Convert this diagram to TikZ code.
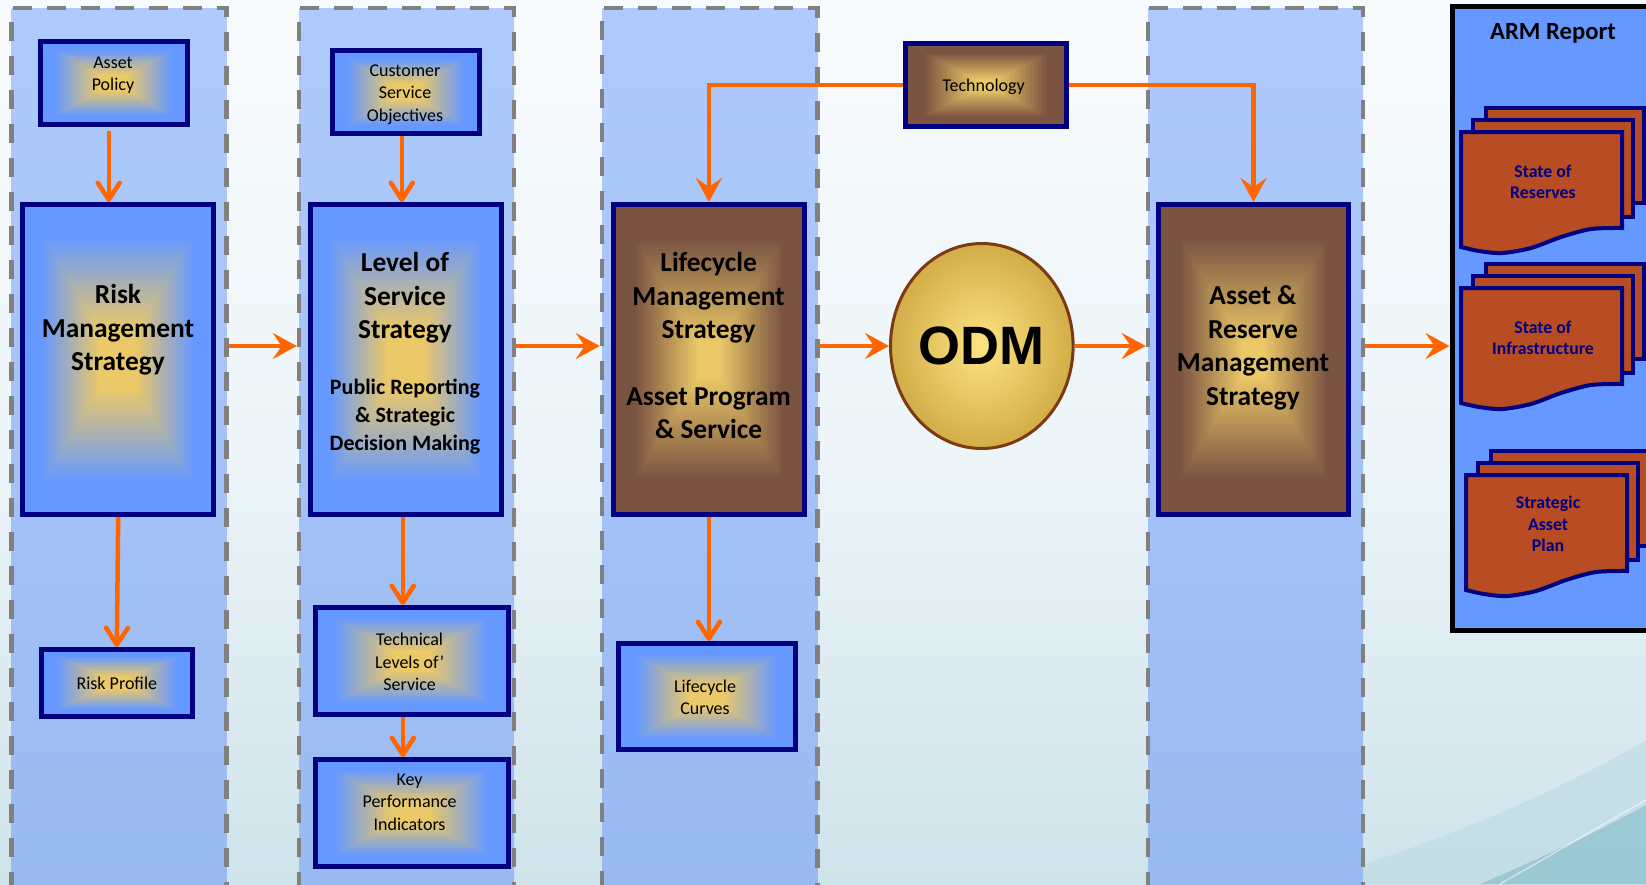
\documentclass[tikz,border=0pt]{standalone}
\usepackage{fontspec}
\setmainfont{Carlito}
\newfontfamily\odmfont{Liberation Sans}
\usetikzlibrary{arrows.meta,calc,shapes.geometric}

\definecolor{bgtop}{HTML}{F8FBFD}
\definecolor{bgmid}{HTML}{EDF5F8}
\definecolor{bgbot}{HTML}{CFE3EA}
\definecolor{swooshA}{HTML}{BCDBE3}
\definecolor{swooshB}{HTML}{8CC0CC}
\definecolor{lanetop}{HTML}{AFCBFD}
\definecolor{lanebot}{HTML}{99BAF1}
\definecolor{dashgray}{HTML}{808080}
\definecolor{navy}{HTML}{000080}
\definecolor{boxblue}{HTML}{6699FF}
\definecolor{boxgold}{HTML}{EBC868}
\definecolor{boxbrown}{HTML}{7A5441}
\definecolor{flow}{HTML}{FF6600}
\definecolor{docfill}{HTML}{B84C22}
\definecolor{odmedge}{HTML}{7B3A12}
\definecolor{odmin}{HTML}{FDE483}
\definecolor{odmout}{HTML}{D2AD48}

\tikzset{
  % rectangular "from centre" gradient made of nested rectangles:
  % #1 edge colour, #2 centre colour, #3/#4 start and end of the blend
  rectgrad/.style n args={4}{path picture={
    \foreach \gk in {0,...,59}{
      \pgfmathsetmacro\gt{\gk/60}
      \pgfmathtruncatemacro\gp{min(100,max(0,(\gt-#3)/(#4-#3)*100))}
      \fill[#2!\gp!#1]
        ($(path picture bounding box.south west)!\gt!(path picture bounding box.center)$)
        rectangle
        ($(path picture bounding box.north east)!\gt!(path picture bounding box.center)$);
    }}},
  lanebox/.style={draw=dashgray, line width=4.5pt, dash pattern=on 19pt off 15pt,
    top color=lanetop, bottom color=lanebot, inner sep=0pt},
  bluebox/.style={draw=navy, line width=5pt, fill=boxblue,
    rectgrad={boxblue}{boxgold}{0.2}{0.8}, inner sep=0pt},
  brownbox/.style={draw=navy, line width=5pt, fill=boxbrown,
    rectgrad={boxbrown}{boxgold}{0.22}{0.88}, inner sep=0pt},
  bigtxt/.style={font=\bfseries\fontsize{27.4}{33.5}\selectfont, align=center, inner sep=0pt},
  midtxt/.style={font=\bfseries\fontsize{22}{28}\selectfont, align=center, inner sep=0pt},
  smalltxt/.style={font=\fontsize{18}{22.3}\selectfont, align=center, inner sep=0pt},
  doctxt/.style={font=\bfseries\fontsize{17.8}{21.5}\selectfont, text=navy, align=center, inner sep=0pt},
  docpage/.style={draw=navy, line width=4pt, fill=docfill},
  flowH/.style={draw=flow, line width=4.5pt, -{Stealth[length=24pt, width=26pt, inset=9pt]}},
  flowV/.style={draw=flow, line width=4.5pt, -{Straight Barb[length=17pt, width=22pt, round]}},
  docstack/.pic={
    \filldraw[docpage] (25,-24) rectangle (183,71);
    \filldraw[docpage] (12,-12) rectangle (172,85);
    \filldraw[docpage] (0,0) -- (161,0) --
      plot[smooth] coordinates {(161,96) (130,97) (100,105) (70,116) (41,121) (18,119) (0,115)}
      -- cycle;
  },
}

\begin{document}
\begin{tikzpicture}[x=1pt,y=-1pt]
\useasboundingbox (0,0) rectangle (1646,884);

% backdrop
\shade[top color=bgtop, bottom color=bgbot, middle color=bgmid] (0,0) rectangle (1646,884);
\fill[swooshA, opacity=0.6] (1300,884) .. controls (1450,840) and (1560,790) .. (1646,740) -- (1646,884) -- cycle;
\fill[swooshB, opacity=0.7] (1480,884) .. controls (1560,850) and (1610,825) .. (1646,805) -- (1646,884) -- cycle;
\draw[white, opacity=0.5, line width=1.5pt] (1500,884) .. controls (1560,850) and (1610,820) .. (1646,800);

% swim lanes
\node[lanebox, minimum width=215pt, minimum height=882pt] (lane1) at (119,449) {};
\node[lanebox, minimum width=215pt, minimum height=882pt] (lane2) at (406.5,449) {};
\node[lanebox, minimum width=215.5pt, minimum height=882pt] (lane3) at (709.75,449) {};
\node[lanebox, minimum width=215pt, minimum height=882pt] (lane4) at (1255.5,449) {};

% report panel
\node[draw=black, line width=5pt, fill=boxblue, minimum width=250pt, minimum height=623.5pt, inner sep=0pt] (arm) at (1577,318.25) {};
\node[font=\bfseries\fontsize{24.7}{28}\selectfont, inner sep=0pt] (armt) at (1553,33) {ARM Report};

% lane 1
\node[bluebox, minimum width=147.5pt, minimum height=82.4pt] (policy) at (113.75,83) {};
\node[smalltxt] (policyt) at (113,75) {Asset\\Policy};
\node[bluebox, minimum width=191.4pt, minimum height=310pt] (risk) at (118.2,359.5) {};
\node[bigtxt] (riskt) at (118,330) {Risk\\Management\\Strategy};
\node[bluebox, minimum width=151.4pt, minimum height=67pt] (rp) at (116.8,683) {};
\node[smalltxt] (rpt) at (116.8,683) {Risk Profile};

% lane 2
\node[bluebox, minimum width=147.4pt, minimum height=83pt] (cso) at (405.8,92) {};
\node[smalltxt] (csot) at (405,94.5) {Customer\\Service\\Objectives};
\node[bluebox, minimum width=190.6pt, minimum height=310pt] (los) at (405.8,359.5) {};
\node[bigtxt] (lost) at (405,298) {Level of\\Service\\Strategy};
\node[midtxt] (losb) at (405,417) {Public Reporting\\\& Strategic\\Decision Making};
\node[bluebox, minimum width=193.2pt, minimum height=107pt] (tlos) at (411.6,661) {};
\node[smalltxt] (tlost) at (409.6,662) {Technical\\Levels of’\\Service};
\node[bluebox, minimum width=193.2pt, minimum height=107pt] (kpi) at (411.6,813) {};
\node[smalltxt] (kpit) at (409.6,802) {Key\\Performance\\Indicators};

% lane 3
\node[brownbox, minimum width=190.8pt, minimum height=310pt] (life) at (708.9,359.5) {};
\node[bigtxt] (lifet) at (708.6,298) {Lifecycle\\Management\\Strategy};
\node[bigtxt] (lifeb) at (708.6,413) {Asset Program\\\& Service};
\node[bluebox, minimum width=177.2pt, minimum height=106pt] (curves) at (706.8,696.5) {};
\node[smalltxt] (curvest) at (705,697) {Lifecycle\\Curves};

% technology and ODM
\node[brownbox, minimum width=160.6pt, minimum height=83pt] (tech) at (985.8,85) {};
\node[smalltxt] (techt) at (983.6,87) {Technology};
\node[ellipse, draw=odmedge, line width=3pt, inner color=odmin, outer color=odmout,
  minimum width=182.6pt, minimum height=205pt, inner sep=0pt,
  font=\odmfont\bfseries\fontsize{54}{54}\selectfont] (odm) at (981.8,346) {ODM};

% lane 4
\node[brownbox, minimum width=190pt, minimum height=310pt] (ares) at (1253.5,359.5) {};
\node[bigtxt] (arest) at (1253,348) {Asset \&\\Reserve\\Management\\Strategy};

% report documents
\pic at (1461,132) {docstack};
\node[doctxt] (srt) at (1543,182) {State of\\Reserves};
\pic at (1461,288) {docstack};
\node[doctxt] (sit) at (1543,338) {State of\\Infrastructure};
\pic at (1466,475) {docstack};
\node[doctxt] (sapt) at (1548,524) {Strategic\\Asset\\Plan};

% main flow
\coordinate (flowy) at (0,346);
\draw[flowH] (lane1.east |- flowy) -- (lane2.west |- flowy);
\draw[flowH] (lane2.east |- flowy) -- (lane3.west |- flowy);
\draw[flowH] (lane3.east |- flowy) -- (odm.west);
\draw[flowH] (odm.east) -- (lane4.west |- flowy);
\draw[flowH] (lane4.east |- flowy) -- (arm.west |- flowy);

% technology feeds
\draw[flowH] (tech.west) -| (life.north);
\draw[flowH] (tech.east) -| (ares.north);

% vertical links
\draw[flowV, shorten <=4pt] ([xshift=-5pt]policy.south) -- ([xshift=-5pt]policy.south |- risk.north);
\draw[flowV] (risk.south) -- (rp.north);
\draw[flowV] ([xshift=-4pt]cso.south) -- ([xshift=-4pt]cso.south |- los.north);
\draw[flowV] ([xshift=-3pt]los.south) -- ([xshift=-3pt]los.south |- tlos.north);
\draw[flowV] ([xshift=-8.7pt]tlos.south) -- ([xshift=-8.7pt]kpi.north);
\draw[flowV] (life.south) -- (life.south |- curves.north);
\end{tikzpicture}
\end{document}
